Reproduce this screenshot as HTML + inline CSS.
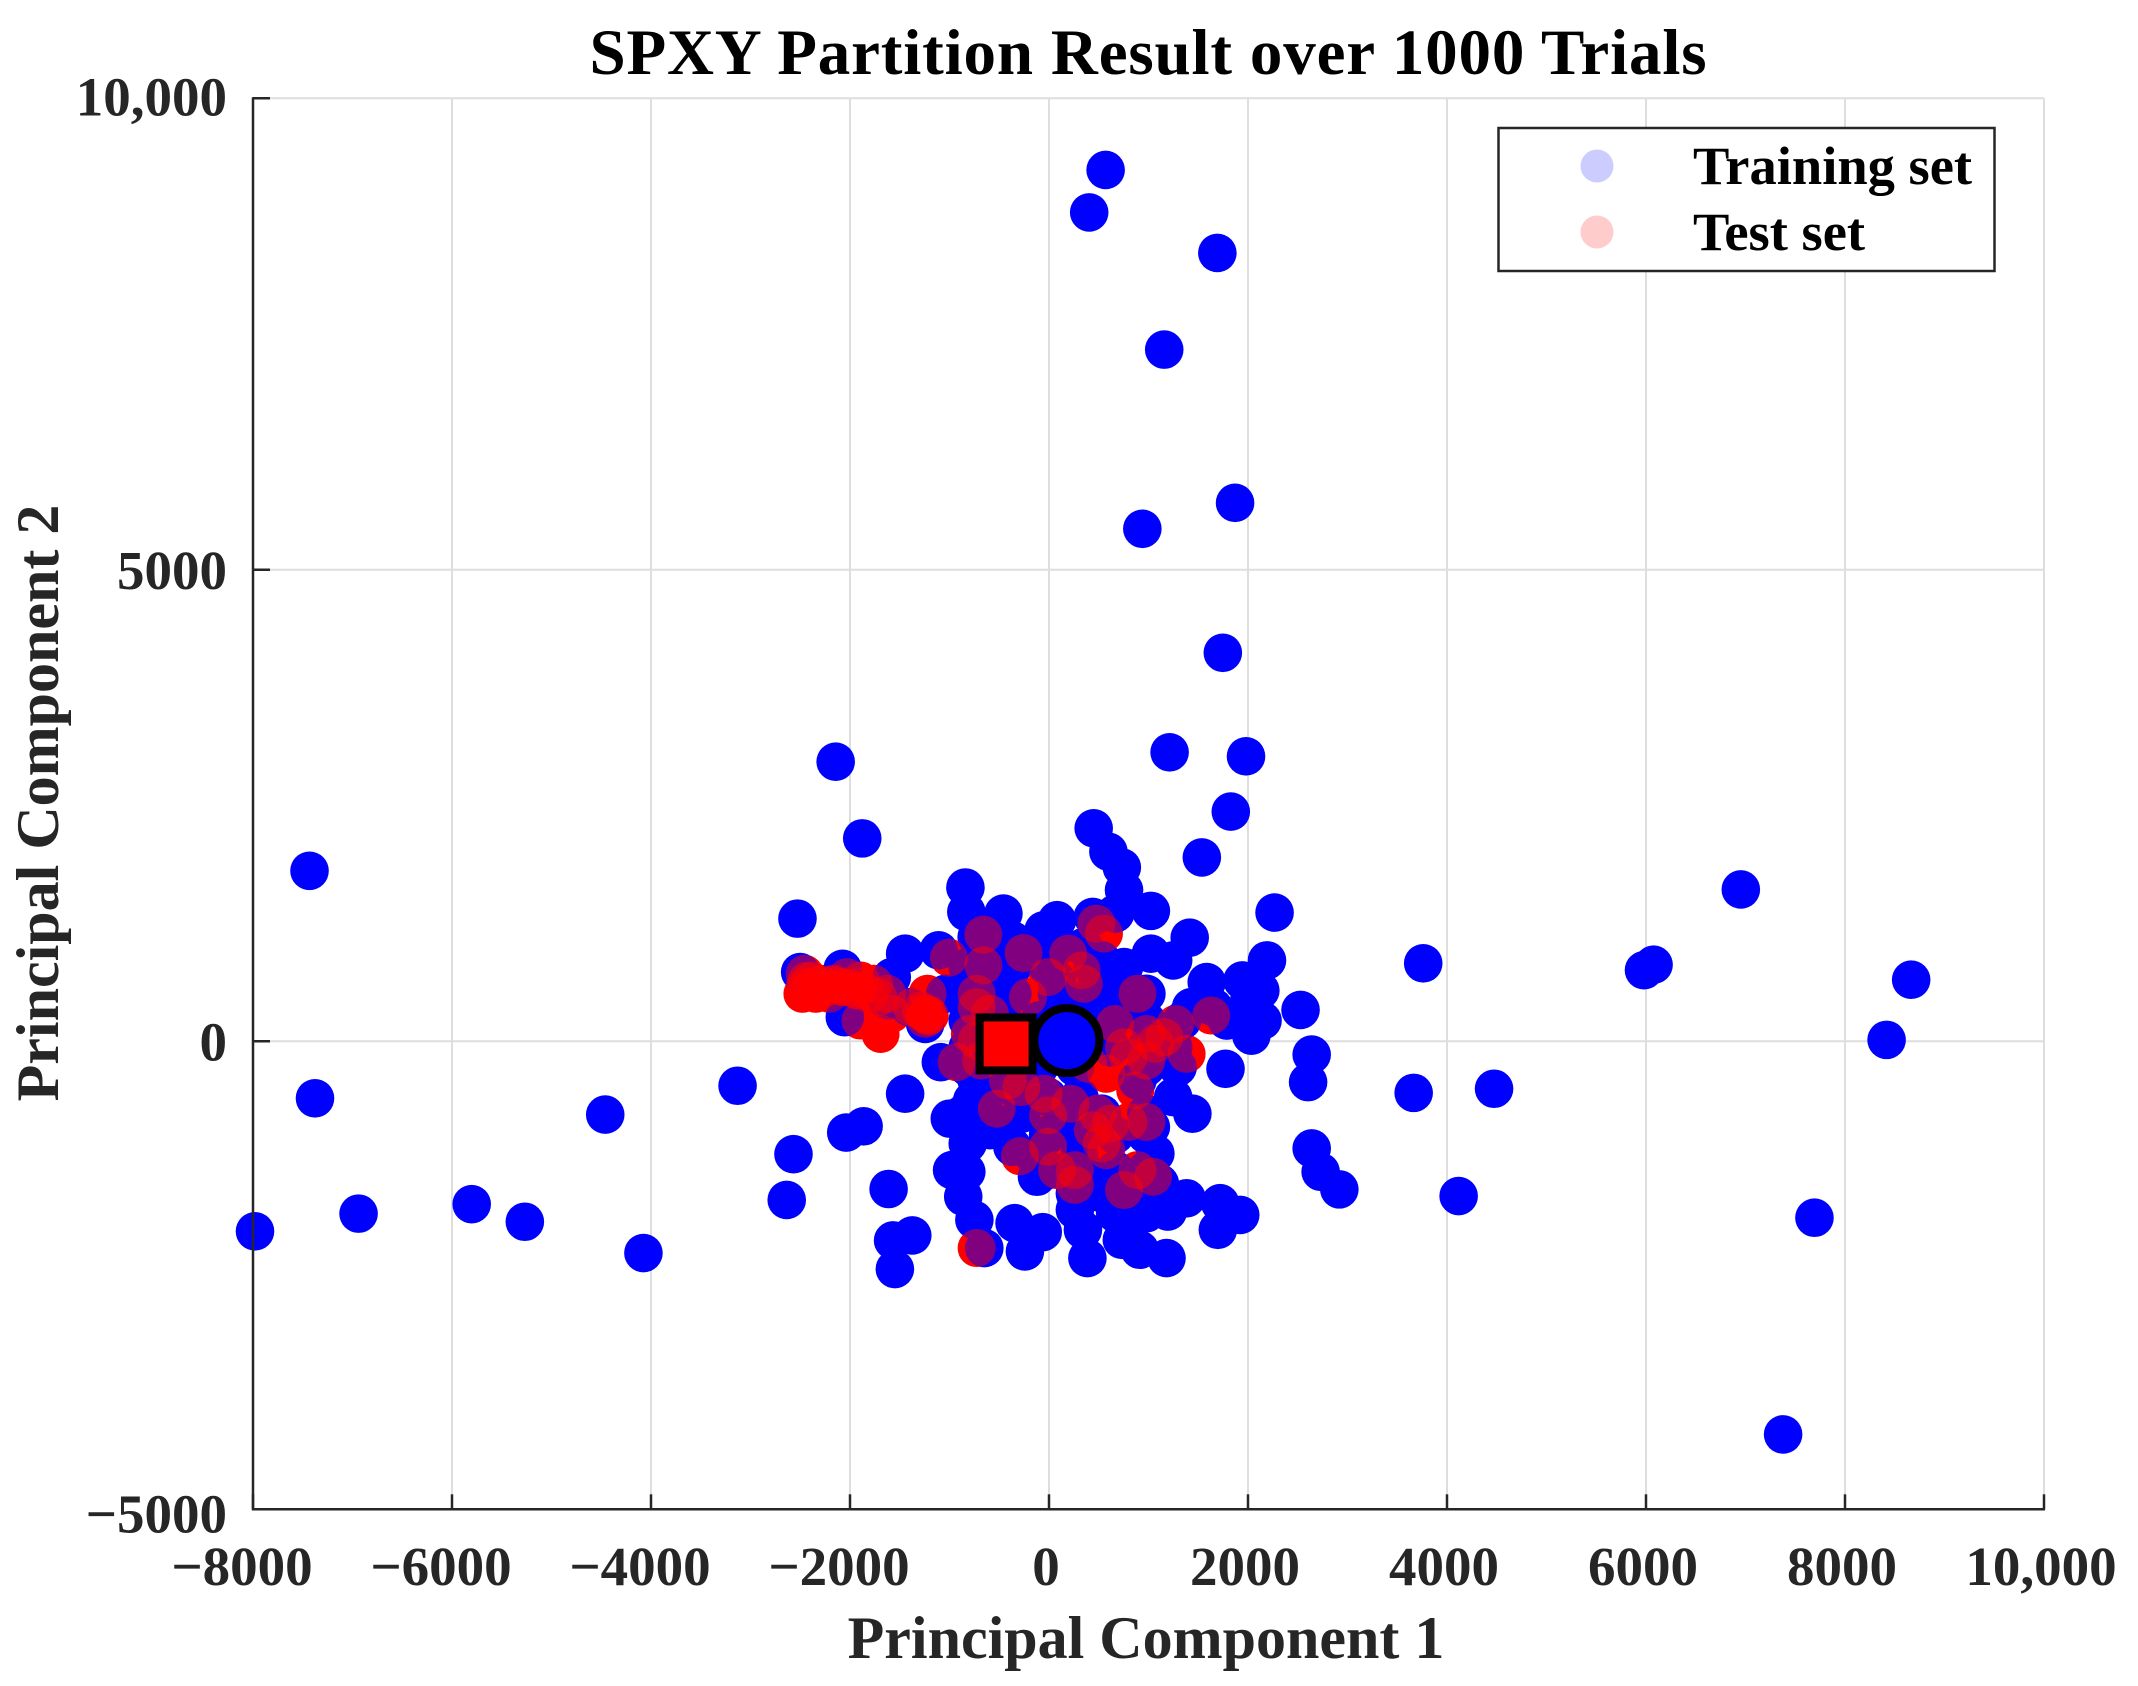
<!DOCTYPE html>
<html lang="en">
<head>
<meta charset="utf-8">
<title>SPXY Partition Result over 1000 Trials</title>
<style>
html,body{margin:0;padding:0;background:#fff;}
svg{display:block;}
text{font-family:"Liberation Serif",serif;font-weight:bold;}
</style>
</head>
<body>
<svg id="chart" xmlns="http://www.w3.org/2000/svg" width="2138" height="1686" viewBox="0 0 2138 1686">
  <rect x="0" y="0" width="2138" height="1686" fill="#ffffff"/>
  <g id="grid"></g>
  <g id="test-under"></g>
  <g id="train"></g>
  <g id="test-over"></g>
  <g id="centers"></g>
  <g id="axes"></g>
  <text x="1148" y="74" font-size="65" text-anchor="middle" fill="#000" textLength="1117" lengthAdjust="spacing">SPXY Partition Result over 1000 Trials</text>
  <text x="1146" y="1658" font-size="60" text-anchor="middle" fill="#262626">Principal Component 1</text>
  <text transform="translate(58,803) rotate(-90)" font-size="60" text-anchor="middle" fill="#262626">Principal Component 2</text>
  <g>
    <rect x="1503" y="128" width="496" height="143" fill="#ffffff" stroke="#262626" stroke-width="2.5" transform="translate(-4.5,0)"/>
    <circle cx="1597" cy="166" r="16.5" fill="#ccccff"/>
    <text x="1693" y="184" font-size="54.5" fill="#000">Training set</text>
    <circle cx="1597" cy="232" r="16.5" fill="#ffcccc"/>
    <text x="1693" y="250" font-size="54.5" fill="#000">Test set</text>
  </g>
</svg>
<script>
const xTicks = [-8000,-6000,-4000,-2000,0,2000,4000,6000,8000,10000];
const yTicks = [-5000,0,5000,10000];
const xTickLabels = ["\u22128000","\u22126000","\u22124000","\u22122000","0","2000","4000","6000","8000","10,000"];
const yTickLabels = ["\u22125000","0","5000","10,000"];

const trainX = [569,404,1692,1158,1870,938,1747,1212,1980,-2144,-7432,6953,3761,6076,5980,8665,8418,-7377,-4460,3665,4473,-7980,-6939,-5802,-5268,-4076,4117,7693,7378,
1827,1536,-1877,449,597,732,754,1024,2267,-840,-831,-458,81,-54,440,665,1414,1024,1248,2191,1585,1944,2124,2528,-2528,-2501,-2074,-1446,-1109,-1580,-2052,-1244,-1087,-3130,-1446,-1863,-2038,-2568,-2636,-1612,-1374,-1567,-1549,-650,-346,-63,-242,386,341,1181,912,732,1194,1383,1720,1697,1922,1114,2640,2730,2918,2604,2640,1774,2034,2146,1652,1428,1248,1441,1024,1069,-831,-974,-862,-750,-997,-817,-593,-772,-368,-121,260,260,665,979,1158,530,350,
-368,-817,-593,81,530,979,440,-368,-727,530,889,81,-638,-368,-638,-368,-727,-9,305,305,979,889,979,1787,2012,-1625,-1042,-1401,-862,-278,-144,
-638,-278,81,350,-9,754,-727,-368,81,440,754,-817,-458,-99,260,620,979,1338,-817,-458,-99,260,620,979,1248,-817,-458,-99,260,979,1293,-638,-278,-638,-278,171,-9,350,665,979,-9,350,665,979,530,799];
const trainY = [9240,8790,8360,7335,5710,5435,4120,3065,3022,2965,1808,1610,827,812,754,653,15,-609,-783,-551,-507,-2030,-1841,-1740,-1928,-2262,-1653,-1885,-4200,
2436,1950,2152,2259,2011,1844,1603,1383,1365,1631,1372,1355,1284,1177,1319,1355,1099,929,858,858,628,645,539,333,1301,734,769,929,965,681,255,184,-223,-475,-560,-908,-975,-1206,-1695,-1578,-2074,-2128,-2433,-2209,-1943,-2039,-2245,-2316,-2014,-2316,-2227,-2121,-1819,-1677,-1730,-2014,-1855,-1518,-1145,-1394,-1582,-436,-142,-294,60,220,362,362,-596,-773,-915,-1199,-1394,-1376,-1660,-1908,-826,-1092,-950,-631,-1128,-1447,-1624,-1801,-1837,-1837,-1660,-773,-986,
787,787,645,645,645,504,787,1071,1106,858,326,362,291,-64,-241,-489,-418,-596,-596,-1234,-773,-418,-135,220,433,433,504,362,-773,-773,-1234,
1000,1000,1000,1000,787,787,504,504,504,504,504,220,220,220,220,220,220,220,-64,-64,-64,-64,-64,-64,-64,-277,-277,-277,-277,-277,-277,-525,-525,-773,-773,-773,-1000,-1000,-1000,-1000,-1376,-1376,-1376,-1376,-1624,-1624];

const testX = [-2456,-2456,-2478,-2299,-2164,-2074,-1940,-1805,-1715,-1625,-2344,-2209,-2389,-2029,-1895,-1760,-1221,-1244,-1289,-1199,-1378,-1693,-1895,-1580,-660,-1006,-256,-660,193,476,552,328,350,-9,-211,889,-727,-727,-1221,665,1630,1271,1158,1069,1383,754,979,799,-929,-795,-278,-413,-525,-9,216,867,620,979,799,530,575,-9,-292,260,260,81,754,1046,889,-727,-593,-727,-682,979,395,575,-54,485,440,
-2440,-2400,-2330,-2250,-2180,-2100,-2000,-1920,-1230,-1215,-1260];
const testY = [716,574,504,610,610,574,539,504,468,504,504,504,645,681,645,610,291,238,326,273,362,78,220,291,1131,887,936,805,929,1248,1142,752,610,681,468,504,504,362,504,184,273,184,43,-28,-135,-64,-206,-170,-223,78,-489,-418,-720,-791,-667,-525,-879,-862,-862,-1092,-1163,-1128,-1227,-1535,-1376,-1376,-1589,-1447,-1376,-2209,291,7,-206,78,-241,-347,-560,-773,-950,
640,560,590,560,600,580,570,540,280,260,300];

const trainCenter = [180, 7];
const testCenter = [-431, -28];

const NS = "http://www.w3.org/2000/svg";
function X(v){ return 253 + (v + 8000) * 0.0995; }
function Y(v){ return v >= 0 ? 1041.3 - v * 0.0943 : 1041.3 - v * 0.0936; }

function make(tag, attrs, parent, txt){
  const el = document.createElementNS(NS, tag);
  for (const k in attrs) el.setAttribute(k, attrs[k]);
  if (txt !== undefined) el.textContent = txt;
  parent.appendChild(el);
  return el;
}

const grid = document.getElementById("grid");
const axes = document.getElementById("axes");
const underLayer = document.getElementById("test-under");
const trainLayer = document.getElementById("train");
const overLayer = document.getElementById("test-over");
const centerLayer = document.getElementById("centers");

xTicks.forEach(function(v, i){
  const g = make("line", {x1:X(v), x2:X(v), y1:Y(10000), y2:Y(-5000), stroke:"#dedede", "stroke-width":2}, grid);
  
  
  const t = make("line", {x1:X(v), x2:X(v), y1:Y(-5000), y2:Y(-5000)-15, stroke:"#262626", "stroke-width":2.5}, axes);
  
  
  const l = make("text", {x:X(v) + (v < 0 ? -11 : -3), y:1585, "font-size":55, "text-anchor":"middle", fill:"#262626"}, axes, xTickLabels[i]);
  
  
});

yTicks.forEach(function(v, i){
  const g = make("line", {x1:X(-8000), x2:X(10000), y1:Y(v), y2:Y(v), stroke:"#dedede", "stroke-width":2}, grid);
  
  
  const t = make("line", {x1:X(-8000), x2:X(-8000)+17, y1:Y(v), y2:Y(v), stroke:"#262626", "stroke-width":2.5}, axes);
  
  
  const l = make("text", {x:227, y:Y(v) + (v === 10000 ? 17 : v === -5000 ? 23 : 19), "font-size":55, "text-anchor":"end", fill:"#262626"}, axes, yTickLabels[i]);
  
  
});

const xAxisLine = make("line", {x1:X(-8000)-1, x2:X(10000)+1, y1:Y(-5000), y2:Y(-5000), stroke:"#262626", "stroke-width":2.5}, axes);


const yAxisLine = make("line", {x1:X(-8000), x2:X(-8000), y1:Y(10000)-1, y2:Y(-5000)+1, stroke:"#262626", "stroke-width":2.5}, axes);



testX.forEach(function(v, i){
  const c = make("circle", {cx:X(v), cy:Y(testY[i]), r:19, fill:"#ff0000"}, underLayer);
  
  
});
trainX.forEach(function(v, i){
  const c = make("circle", {cx:X(v), cy:Y(trainY[i]), r:19.3, fill:"#0000ff"}, trainLayer);
  
  
});
testX.forEach(function(v, i){
  const c = make("circle", {cx:X(v), cy:Y(testY[i]), r:19, fill:"#ff0000", "fill-opacity":0.5}, overLayer);
  
  
});

const trainMark = make("circle", {cx:X(trainCenter[0]), cy:Y(trainCenter[1]), r:32.5, fill:"#0000ff", stroke:"#000", "stroke-width":8}, centerLayer);


const testMark = make("rect", {x:X(testCenter[0])-26.5, y:Y(testCenter[1])-26.5, width:53, height:53, fill:"#ff0000", stroke:"#000", "stroke-width":8}, centerLayer);


</script>
</body>
</html>
